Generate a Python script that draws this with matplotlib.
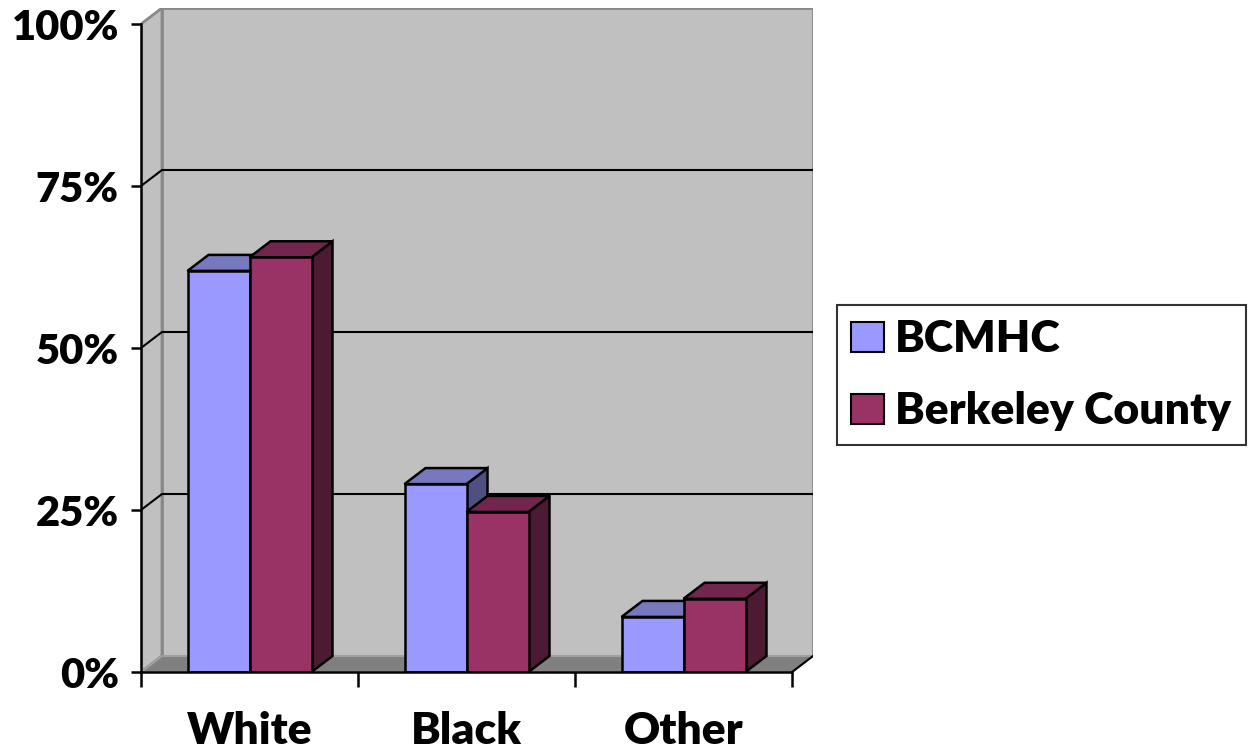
import matplotlib
matplotlib.use('Agg')
import matplotlib.pyplot as plt
from matplotlib.patches import Polygon, Rectangle, Patch

categories = ['White', 'Black', 'Other']
series_names = ['BCMHC', 'Berkeley County']
bcmhc = [61.9, 29.0, 8.5]
berkeley = [64.0, 24.7, 11.3]
yticks = [0, 25, 50, 75, 100]
ytick_labels = ['0%', '25%', '50%', '75%', '100%']

front_colors = ['#9999FF', '#993366']
top_colors = ['#7878C0', '#73264D']
side_colors = ['#4F4F82', '#4D1A33']

plt.rcParams['font.family'] = ['Lato', 'DejaVu Sans']
plt.rcParams['font.weight'] = 'heavy'

W, H = 1255, 752
fig = plt.figure(figsize=(W / 100, H / 100), dpi=100)
ax = fig.add_axes([141 / W, (H - 672) / H, (813 - 141) / W, (672 - 8) / H])
ax.patch.set_visible(False)
dx = 21 / 217
dy = 16 / 6.48
n = len(categories)
ax.set_xlim(0, n + dx)
ax.set_ylim(0, 100 + dy)

# walls and floor
ax.add_patch(Polygon([(0, 0), (dx, dy), (dx, 100 + dy), (0, 100)], closed=True,
                     fc='#C0C0C0', ec='#888888', lw=2, zorder=0))
ax.add_patch(Rectangle((dx, dy), n, 100, fc='#C0C0C0', ec='#888888', lw=2, zorder=0))
ax.add_patch(Polygon([(0, 0), (n, 0), (n + dx, dy), (dx, dy)], closed=True,
                     fc='#808080', ec='#A0A0A0', lw=1.5, zorder=0.5))
ax.plot([n, n + dx], [0, dy], color='black', lw=1.5, zorder=0.6)
for v in yticks[1:-1]:
    ax.plot([0, dx, n + dx], [v, v + dy, v + dy], color='black', lw=1.5, zorder=0.4)

bw = 62 / 217


def draw_bar(x0, h, k):
    x1 = x0 + bw
    ax.add_patch(Polygon([(x1, 0), (x1 + dx, dy), (x1 + dx, h + dy), (x1, h)], closed=True,
                         fc=side_colors[k], ec='black', lw=1.8, zorder=2))
    ax.add_patch(Polygon([(x0, h), (x1, h), (x1 + dx, h + dy), (x0 + dx, h + dy)], closed=True,
                         fc=top_colors[k], ec='black', lw=1.8, zorder=2))
    ax.add_patch(Rectangle((x0, 0), bw, h, fc=front_colors[k], ec='black', lw=1.8, zorder=2))


for i in range(n):
    c = i + 0.5
    draw_bar(c - bw, bcmhc[i], 0)
    draw_bar(c, berkeley[i], 1)

for s in ['top', 'right']:
    ax.spines[s].set_visible(False)
ax.spines['left'].set_bounds(0, 100)
ax.spines['bottom'].set_bounds(0, n)
for s in ['left', 'bottom']:
    ax.spines[s].set_linewidth(1.8)
    ax.spines[s].set_zorder(3)

ax.set_yticks(yticks)
ax.set_yticklabels(ytick_labels)
ax.tick_params(axis='y', direction='out', length=7, width=1.8, pad=9, labelsize=30)
ax.set_xticks(range(n + 1))
ax.set_xticklabels([''] * (n + 1))
ax.tick_params(axis='x', which='major', direction='out', length=11, width=1.8)
ax.set_xticks([i + 0.5 for i in range(n)], minor=True)
ax.set_xticklabels(categories, minor=True)
ax.tick_params(axis='x', which='minor', length=0, pad=28, labelsize=32)

handles = [Patch(fc=front_colors[k], ec='black', lw=1.5) for k in range(2)]
leg = fig.legend(handles, series_names, loc='upper left',
                 bbox_to_anchor=(837 / W, 1 - 305 / H), frameon=True, fancybox=False,
                 edgecolor='black', fontsize=32, borderaxespad=0, handlelength=0.74,
                 handleheight=0.67, handletextpad=0.25, labelspacing=0.72,
                 borderpad=0.32)
leg.get_frame().set_linewidth(1.5)

fig.savefig('out.png', dpi=100)
